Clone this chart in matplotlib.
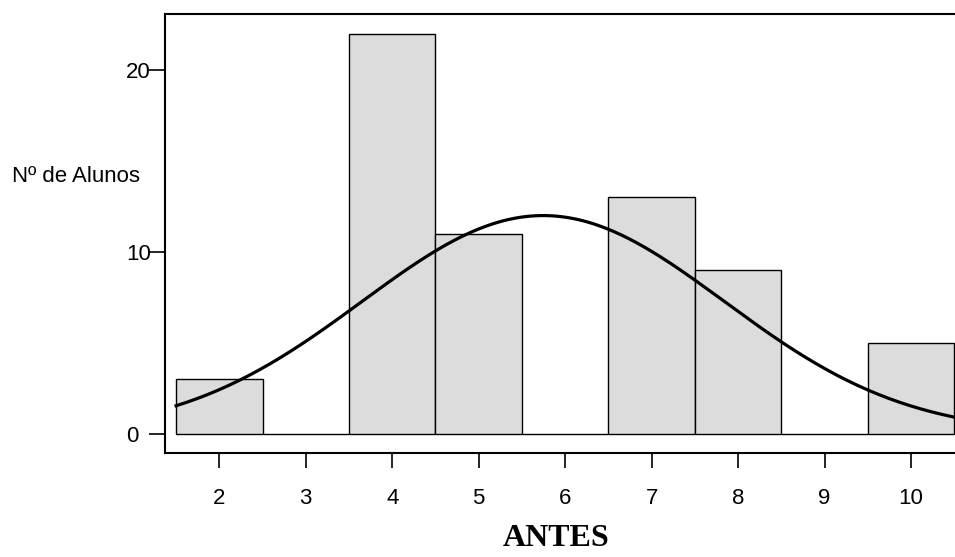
import numpy as np
import matplotlib
matplotlib.use('Agg')
import matplotlib.pyplot as plt

# dados do histograma (notas ANTES)
notas = [2, 3, 4, 5, 6, 7, 8, 9, 10]
alunos = [3, 0, 22, 11, 0, 13, 9, 0, 5]
yticks = [0, 10, 20]

plt.rcParams['font.family'] = ['Liberation Sans', 'DejaVu Sans']

W, H = 955, 557
fig = plt.figure(figsize=(W / 100, H / 100), dpi=100)
# eixo: esquerda 165px, topo 14px, base 452.7px, direita alem da borda
ax = fig.add_axes([165 / W, (H - 452.7) / H, (962 - 165) / W, (452.7 - 14) / H])

ax.bar(notas, alunos, width=1.0, color='#dcdcdc', edgecolor='black', linewidth=1.0, zorder=2)

# curva normal ajustada aos dados
x = np.array(notas, dtype=float)
f = np.array(alunos, dtype=float)
n = f.sum()
media = (x * f).sum() / n
dp = np.sqrt((f * (x - media) ** 2).sum() / (n - 1))
xs = np.linspace(1.5, 10.5, 300)
ys = n * np.exp(-0.5 * ((xs - media) / dp) ** 2) / (dp * np.sqrt(2 * np.pi))
ax.plot(xs, ys, color='black', lw=2.3, zorder=3)

ax.set_xlim(1.372, 1.372 + (962 - 165) / 86.46)
ax.set_ylim(-1.045, 23.09)

ax.spines['right'].set_visible(False)
for s in ['left', 'top', 'bottom']:
    ax.spines[s].set_linewidth(1.5)

ax.set_xticks(notas)
ax.set_xticklabels([str(v) for v in notas])
ax.set_yticks(yticks)
ax.tick_params(axis='x', direction='out', length=11, width=1.2, pad=14.5, labelsize=16)
ax.tick_params(axis='y', direction='out', length=11.5, width=1.2, pad=16.6, labelsize=16)
for lab in ax.get_yticklabels():
    lab.set_horizontalalignment('left')

fig.text(12 / W, 1 - 177 / H, 'Nº de Alunos', fontsize=16, ha='left', va='center')
fig.text(556 / W, 1 - 538 / H, 'ANTES', fontsize=23, fontweight='bold',
         family=['Liberation Serif', 'DejaVu Serif'], ha='center', va='center')

fig.savefig('out.png', dpi=100)
